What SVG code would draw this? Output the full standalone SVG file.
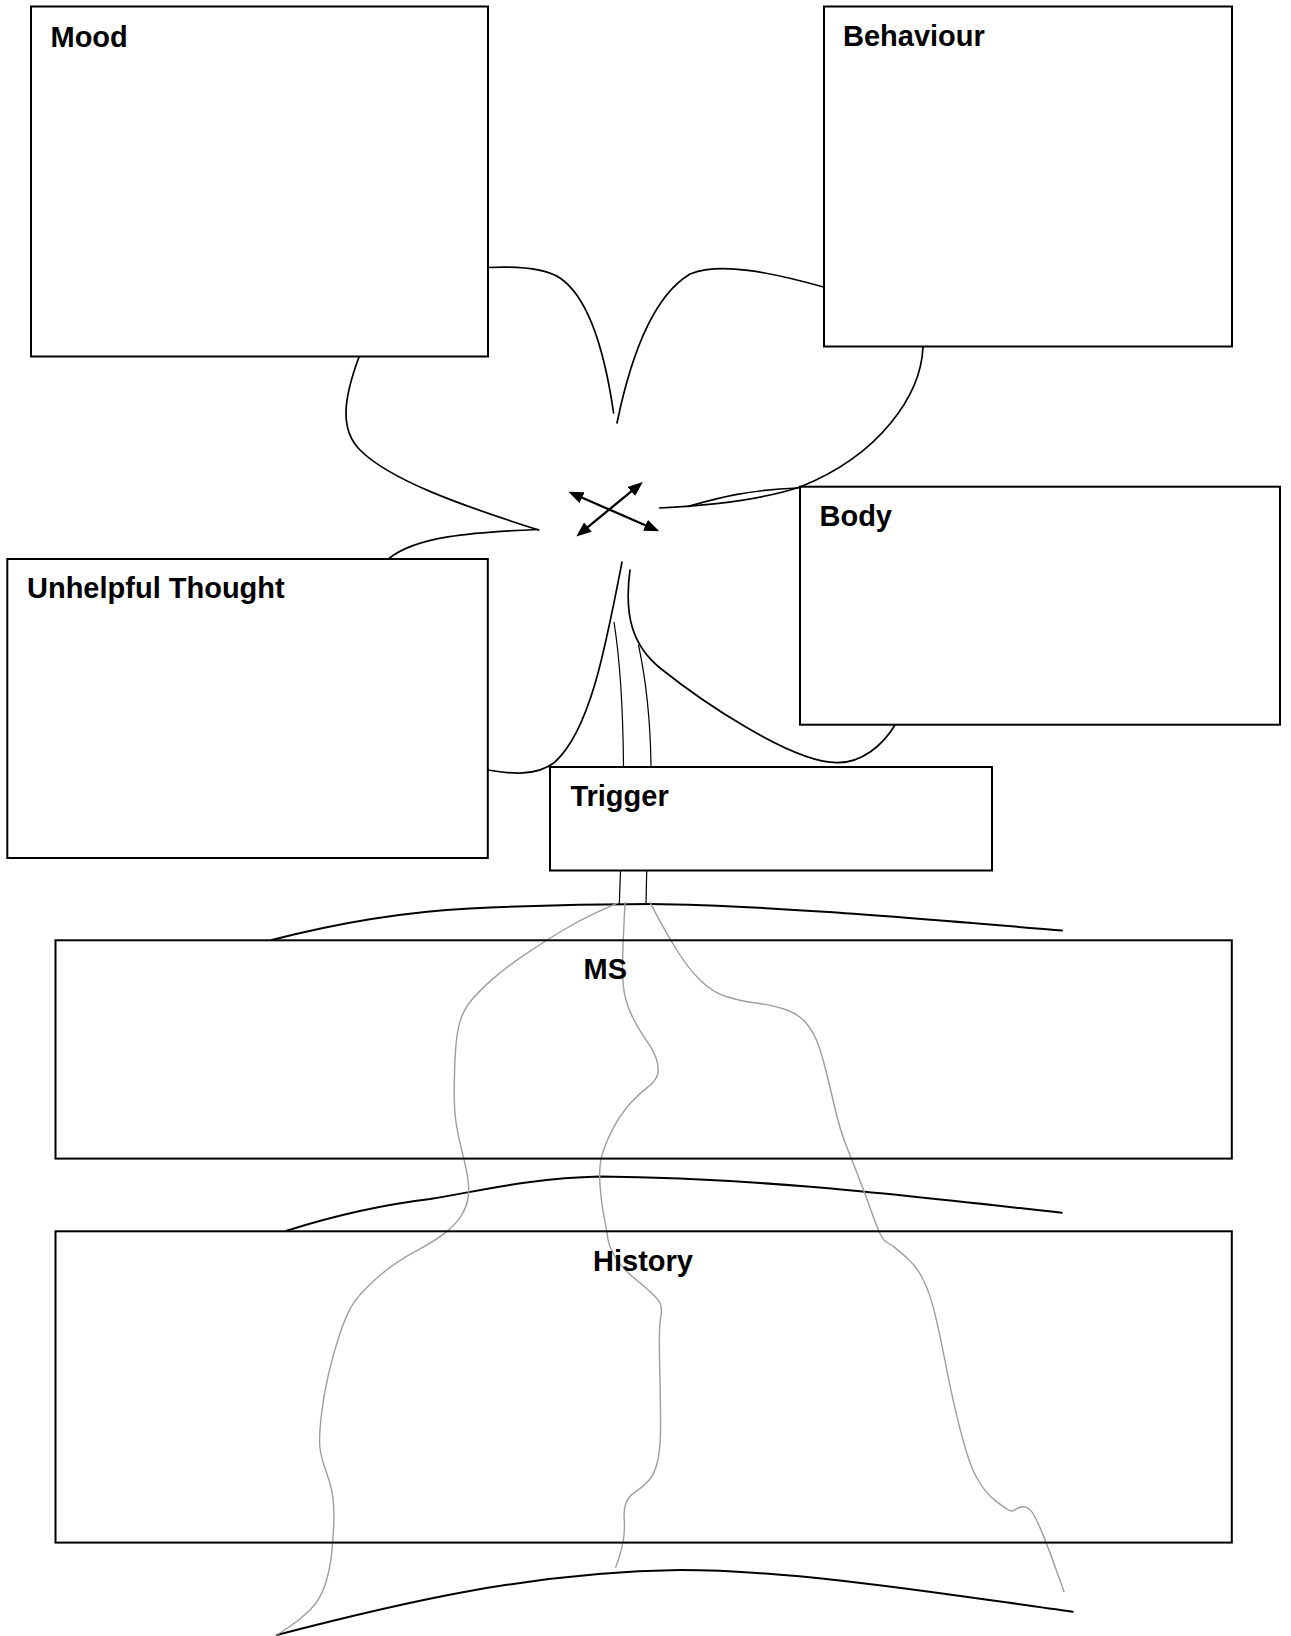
<svg xmlns="http://www.w3.org/2000/svg" width="1291" height="1636" viewBox="0 0 1291 1636">
  <style>
    .box { fill: none; stroke: #000; stroke-width: 2; }
    .label { font-family: "Liberation Sans", Arial, sans-serif; font-weight: bold; font-size: 29px; fill: #000; }
    .petal { fill: none; stroke: #000; stroke-width: 1.7; stroke-linecap: round; }
    .stem { fill: none; stroke: #000; stroke-width: 1.2; }
    .layer { fill: none; stroke: #000; stroke-width: 2; stroke-linecap: round; }
    .root { fill: none; stroke: #9e9e9e; stroke-width: 1.4; stroke-linecap: round; stroke-linejoin: round; }
    .cross { fill: none; stroke: #000; stroke-width: 2.3; }
  </style>
  <defs>
    <marker id="ah" viewBox="0 0 15 12" refX="8" refY="6" markerWidth="15" markerHeight="12" markerUnits="userSpaceOnUse" orient="auto-start-reverse">
      <path d="M0,0 L15,6 L0,12 z" fill="#000"/>
    </marker>
  </defs>

  <rect width="1291" height="1636" fill="#fff"/>

  <g id="connectors">
    <!-- clover petals joining the four boxes -->
    <path class="petal" d="M488,267.5 C520,266 545,268 560,278 C585,295 603,340 613.6,413"/>
    <path class="petal" d="M617,423 C632,350 655,295 690,274 C720,262 770,272 823.5,287"/>
    <path class="petal" d="M923,347 C921,395 880,455 800,487 C770,497 720,505 659.5,508"/>
    <path class="petal" d="M688,506.5 C715,499 745,490 798,488"/>
    <path class="petal" d="M359,357 C343,400 340,430 360,450 C390,480 460,505 538.6,530"/>
    <path class="petal" d="M538.5,529.5 C470,532 415,537 389,558.5"/>
    <path class="petal" d="M622,562 C605,650 590,730 555,762 C535,778 505,773 488,770"/>
    <path class="petal" d="M630,570 C624,615 632,645 660,668 C700,700 790,762 836.7,762.7 C862,763 883,745 895,725"/>

    <!-- stem down to the trigger -->
    <path class="stem" d="M614,622 C620,660 623,700 623.5,767"/>
    <path class="stem" d="M638.5,645 C646,680 650.5,720 651,767"/>
    <path class="stem" d="M620.5,871 L619.3,904"/>
    <path class="stem" d="M646.7,871 L646,904"/>

    <!-- central two-way arrows -->
    <line class="cross" x1="574.8" y1="494.5" x2="652.8" y2="528.5" marker-start="url(#ah)" marker-end="url(#ah)"/>
    <line class="cross" x1="637.4" y1="486.4" x2="581.7" y2="532.1" marker-start="url(#ah)" marker-end="url(#ah)"/>

    <!-- soil layers -->
    <path class="layer" d="M271.7,940 C330,925 400,912 470,908.5 C530,905.5 600,904 650,904 C760,905 900,917 1062,930.5"/>
    <path class="layer" d="M286.7,1230.7 C330,1217 380,1205 430,1199 C480,1191 530,1178 600,1176.5 C760,1178 900,1195 1061.7,1212.7"/>
    <path class="layer" d="M276.7,1635 C400,1603 530,1572 680,1570 C800,1570 950,1595 1072.7,1611.7"/>

    <!-- roots -->
    <path class="root" d="M616.7,903.3 L598.35,911.65 Q580,920 563.35,930 Q546.7,940 526.7,953.35 Q506.7,966.7 493.35,978.35 Q480,990 471.65,1000 Q463.3,1010 460,1021.65 Q456.7,1033.3 455.6,1049.15 Q454.5,1065 454.25,1087.5 Q454,1110 456.15,1123.35 Q458.3,1136.7 462.5,1153.35 Q466.7,1170 468,1180 Q469.3,1190 468,1198.35 Q466.7,1206.7 461.7,1215 Q456.7,1223.3 446.7,1231.65 Q436.7,1240 415,1251.65 Q393.3,1263.3 376.65,1278.3 Q360,1293.3 353.35,1303.3 Q346.7,1313.3 340,1333.3 Q333.3,1353.3 328.3,1375 Q323.3,1396.7 321.15,1416.7 Q319,1436.7 319.85,1446.7 Q320.7,1456.7 326.2,1471.7 Q331.7,1486.7 333,1498.35 Q334.3,1510 333.8,1523.35 Q333.3,1536.7 331.65,1553.35 Q330,1570 325,1585 Q320,1600 310,1610 Q300,1620 288.35,1627.5 L276.7,1635"/>
    <path class="root" d="M625,902.7 L624,922.85 Q623,943 622.65,959.85 Q622.3,976.7 623.65,988.35 Q625,1000 630.85,1013.35 Q636.7,1026.7 645,1038.35 Q653.3,1050 656.15,1058.35 Q659,1066.7 657.85,1073.35 Q656.7,1080 648.35,1086.65 Q640,1093.3 633.35,1100 Q626.7,1106.7 620,1116.7 Q613.3,1126.7 607.5,1140 Q601.7,1153.3 600.35,1163.3 Q599,1173.3 600.35,1189.15 Q601.7,1205 604.2,1217.5 Q606.7,1230 607.85,1238.5 Q609,1247 615.5,1257.5 Q622,1268 633.5,1277.5 Q645,1287 652.5,1294 Q660,1301 661,1306 Q662,1311 660.75,1317 Q659.5,1323 659.4,1338 Q659.3,1353 659.9,1376.5 Q660.5,1400 660.6,1423.35 Q660.7,1446.7 657.85,1460 Q655,1473.3 649.15,1480 Q643.3,1486.7 635.8,1491.7 Q628.3,1496.7 625.9,1503.35 Q623.5,1510 624.25,1520 Q625,1530 623.35,1540 Q621.7,1550 618.7,1558.65 L615.7,1567.3"/>
    <path class="root" d="M650,902.7 L659,919.35 Q668,936 678,952 Q688,968 700,980 Q712,992 726,996.5 Q740,1001 757.5,1003.25 Q775,1005.5 787.5,1010.25 Q800,1015 807,1024 Q814,1033 818,1044 Q822,1055 826,1071 Q830,1087 835,1108.5 Q840,1130 846.65,1146.65 Q853.3,1163.3 860,1180.65 Q866.7,1198 872.35,1214 Q878,1230 881,1235.5 Q884,1241 887.85,1243 Q891.7,1245 895.85,1248.35 Q900,1251.7 908.35,1259.2 Q916.7,1266.7 923.35,1280 Q930,1293.3 935,1314.15 Q940,1335 945,1360.85 Q950,1386.7 955,1408.35 Q960,1430 965.85,1450 Q971.7,1470 979.2,1482 Q986.7,1494 995,1500.35 Q1003.3,1506.7 1007.5,1509.5 Q1011.7,1512.3 1014.35,1510.15 Q1017,1508 1021,1507 Q1025,1506 1029.15,1509 Q1033.3,1512 1040,1527.65 Q1046.7,1543.3 1055.35,1567.4 L1064,1591.5"/>
  </g>

  <g id="mood">
    <rect class="box" x="31" y="6.5" width="457" height="350"/>
    <text class="label" x="50.5" y="46.7">Mood</text>
  </g>
  <g id="behaviour">
    <rect class="box" x="824" y="6.5" width="408" height="340"/>
    <text class="label" x="843" y="46">Behaviour</text>
  </g>
  <g id="body">
    <rect class="box" x="800" y="486.7" width="480" height="238"/>
    <text class="label" x="819.5" y="525.7">Body</text>
  </g>
  <g id="unhelpful-thought">
    <rect class="box" x="7.3" y="559" width="480.5" height="299"/>
    <text class="label" x="27" y="597.7">Unhelpful Thought</text>
  </g>
  <g id="trigger">
    <rect class="box" x="550" y="767" width="442" height="103.5"/>
    <text class="label" x="570.4" y="805.7">Trigger</text>
  </g>
  <g id="ms">
    <rect class="box" x="55.5" y="940.3" width="1176.3" height="218.3"/>
    <text class="label" x="583.5" y="979">MS</text>
  </g>
  <g id="history">
    <rect class="box" x="55.5" y="1231.3" width="1176.3" height="311.3"/>
    <text class="label" x="593" y="1270.5">History</text>
  </g>
</svg>
